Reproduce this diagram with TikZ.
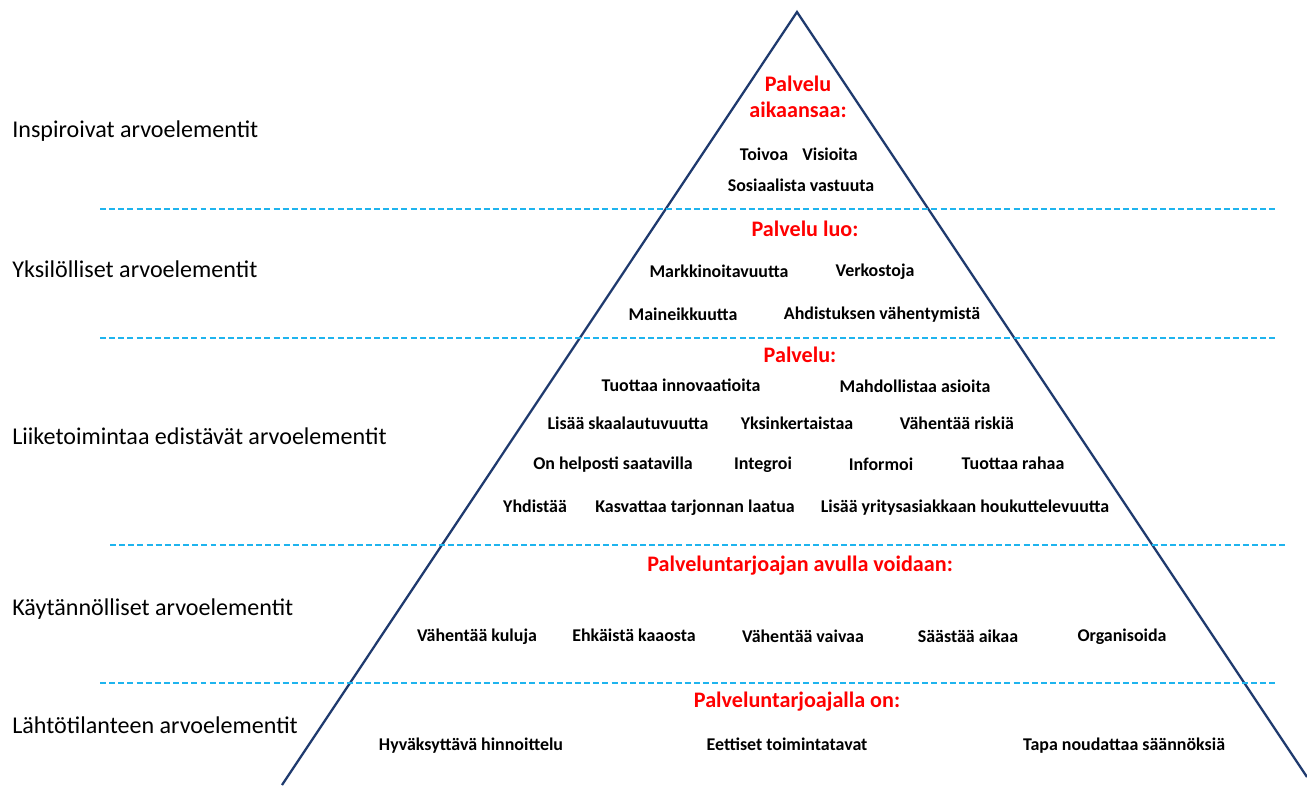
\documentclass[tikz,border=0pt]{standalone}
\usepackage{fontspec}
\setmainfont{Carlito}
\usetikzlibrary{positioning,calc}

\definecolor{pyramidblue}{HTML}{1F3A6E}
\definecolor{levelline}{HTML}{1FB4EE}

\begin{document}
\begin{tikzpicture}[x=0.02cm, y=-0.02cm,
% Node styles
 level/.style={anchor=west, font=\fontsize{13.7}{16}\selectfont, inner sep=0pt,
 text height=1.6ex, text depth=0.4ex},
 head/.style={text=red, font=\fontsize{12.6}{14.5}\selectfont\bfseries, align=center, inner sep=0pt},
 item/.style={font=\fontsize{10.2}{12}\selectfont\bfseries, inner sep=0pt,
 text height=1.6ex, text depth=0.4ex},
% Line styles
 side/.style={draw=pyramidblue, line width=1.3pt},
 divider/.style={draw=levelline, dash pattern=on 3.4pt off 1.8pt, line width=0.6pt}
]
\useasboundingbox (0,0) rectangle (1307,785);

% Pyramid
\coordinate (apex) at (797,12);
\coordinate (baseL) at (282,785);
\coordinate (baseR) at (1307,777);
\draw[side] (baseL) -- (apex) -- (baseR);

% Level dividers
\coordinate (d1a) at (100,209); \coordinate (d1b) at (1275,209);
\coordinate (d2a) at (100,338); \coordinate (d2b) at (1275,338);
\coordinate (d3a) at (110,545); \coordinate (d3b) at (1285,545);
\coordinate (d4a) at (100,683); \coordinate (d4b) at (1275,683);
\draw[divider] (d1a) -- (d1b);
\draw[divider] (d2a) -- (d2b);
\draw[divider] (d3a) -- (d3b);
\draw[divider] (d4a) -- (d4b);

% Level names
\node[level] (inspire) at (12,132) {Inspiroivat arvoelementit};
\node[level] (personal) at (12,272) {Yksilölliset arvoelementit};
\node[level] (business) at (12,439) {Liiketoimintaa edistävät arvoelementit};
\node[level] (practical) at (12,610) {Käytännölliset arvoelementit};
\node[level] (basic) at (12,728) {Lähtötilanteen arvoelementit};

% Top level
\node[head] (head1) at (798,97) {Palvelu\\aikaansaa:};
\node[item] (hope) at (764,155) {Toivoa};
\node[item] (vision) at (830,155) {Visioita};
\node[item] (social) at (801,186) {Sosiaalista vastuuta};

% Second level
\node[head] (head2) at (805,229) {Palvelu luo:};
\node[item] (market) at (719,272) {Markkinoitavuutta};
\node[item] (network) at (875,271) {Verkostoja};
\node[item] (fame) at (683,315) {Maineikkuutta};
\node[item] (anxiety) at (882,314) {Ahdistuksen vähentymistä};

% Third level
\node[head] (head3) at (800,355) {Palvelu:};
\node[item] (innov) at (681,386) {Tuottaa innovaatioita};
\node[item] (enable) at (915,387) {Mahdollistaa asioita};
\node[item] (scale) at (628,424) {Lisää skaalautuvuutta};
\node[item] (simple) at (797,424) {Yksinkertaistaa};
\node[item] (risk) at (957,424) {Vähentää riskiä};
\node[item] (avail) at (613,464) {On helposti saatavilla};
\node[item] (integ) at (763,464) {Integroi};
\node[item] (inform) at (881,465) {Informoi};
\node[item] (money) at (1013,464) {Tuottaa rahaa};
\node[item] (combine) at (535,507) {Yhdistää};
\node[item] (quality) at (695,507) {Kasvattaa tarjonnan laatua};
\node[item] (attract) at (965,507) {Lisää yritysasiakkaan houkuttelevuutta};

% Fourth level
\node[head] (head4) at (800,566) {Palveluntarjoajan avulla voidaan:};
\node[item] (cost) at (477,636) {Vähentää kuluja};
\node[item] (chaos) at (634,636) {Ehkäistä kaaosta};
\node[item] (effort) at (803,637) {Vähentää vaivaa};
\node[item] (time) at (968,637) {Säästää aikaa};
\node[item] (organise) at (1122,636) {Organisoida};

% Bottom level
\node[head] (head5) at (797,702) {Palveluntarjoajalla on:};
\node[item] (price) at (471,745) {Hyväksyttävä hinnoittelu};
\node[item] (ethics) at (787,745) {Eettiset toimintatavat};
\node[item] (rules) at (1124,745) {Tapa noudattaa säännöksiä};

\end{tikzpicture}
\end{document}
